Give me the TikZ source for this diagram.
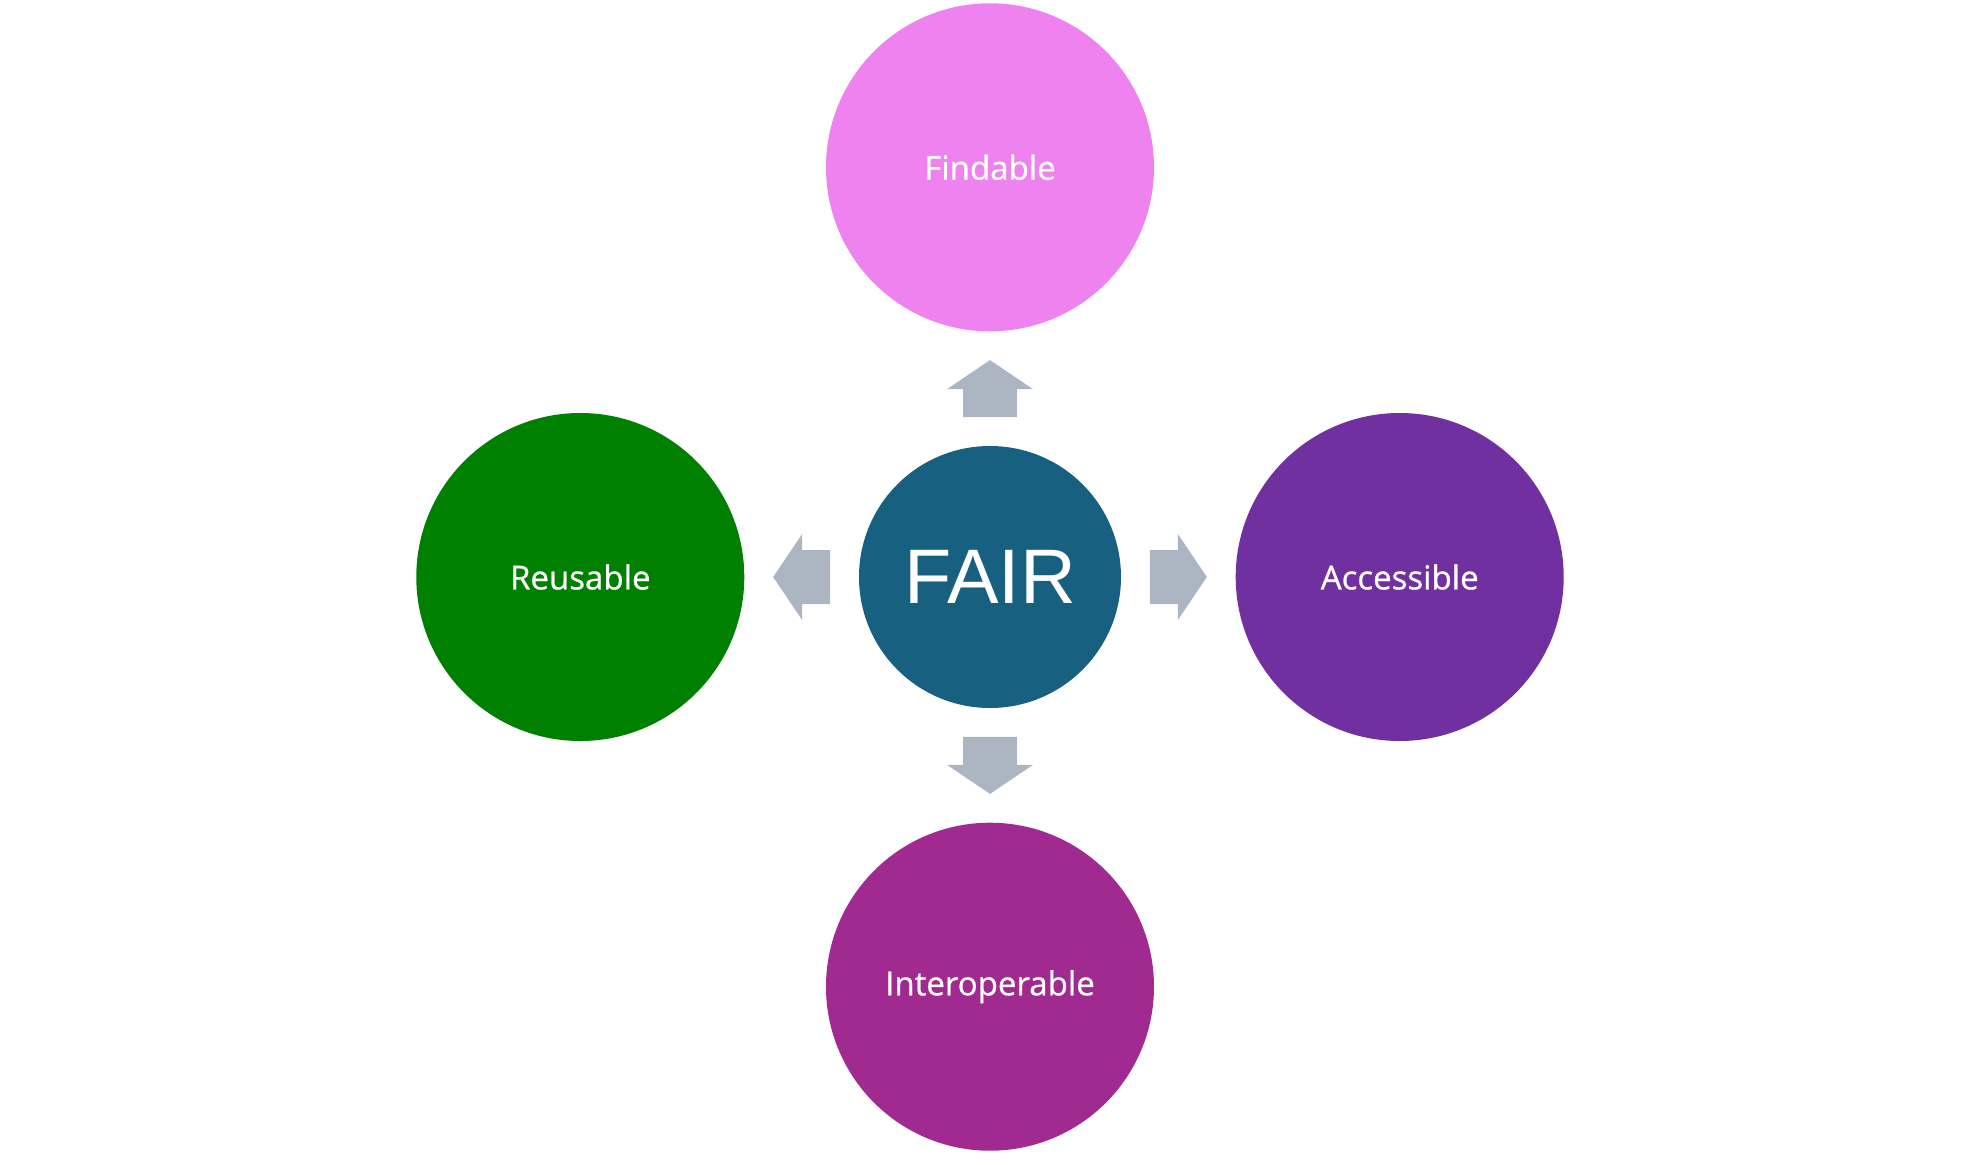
\documentclass[tikz,border=0pt]{standalone}
\usepackage{fontspec}
\setmainfont{Open Sans}
\newfontfamily\labelfont{Open Sans}[FakeBold=0.8]
\newfontfamily\fairfont{Liberation Sans}
\usetikzlibrary{positioning, calc}
\definecolor{fairblue}{HTML}{186080}
\definecolor{findpink}{HTML}{EE82EE}
\definecolor{accpurple}{HTML}{7030A0}
\definecolor{intplum}{HTML}{A02A90}
\definecolor{reugreen}{HTML}{008000}
\definecolor{arrowgrey}{HTML}{ABB6C2}
\tikzset{
    hub/.style={circle, fill=fairblue, minimum size=5.24cm, inner sep=0pt,
                text=white, font=\fairfont\fontsize{44}{46}\selectfont},
    principle/.style={circle, minimum size=6.56cm, inner sep=0pt,
                      text=white, font=\labelfont\fontsize{18.8}{22}\selectfont},
    blockarrow/.pic={
        \fill[arrowgrey] (-0.57,-0.54) -- (-0.01,-0.54) -- (-0.01,-0.86) -- (0.57,0)
            -- (-0.01,0.86) -- (-0.01,0.54) -- (-0.57,0.54) -- cycle;
    },
}
\begin{document}
\begin{tikzpicture}[node distance=2.28cm]
    \useasboundingbox (-19.8,11.54) rectangle (19.8,-11.74);

    \node[hub] (fair) at (0,0) {FAIR};

    \node[principle, fill=findpink, above=of fair] (findable) {Findable};
    \node[principle, fill=accpurple, right=of fair] (accessible) {Accessible};
    \node[principle, fill=intplum, below=of fair] (interop) {Interoperable};
    \node[principle, fill=reugreen, left=of fair] (reusable) {Reusable};

    % block arrows sit halfway in each gap
    \pic[rotate=90] at ($(fair.north)!0.5!(findable.south)$) {blockarrow};
    \pic[rotate=0] at ($(fair.east)!0.5!(accessible.west)$) {blockarrow};
    \pic[rotate=270] at ($(fair.south)!0.5!(interop.north)$) {blockarrow};
    \pic[rotate=180] at ($(fair.west)!0.5!(reusable.east)$) {blockarrow};

\end{tikzpicture}
\end{document}
